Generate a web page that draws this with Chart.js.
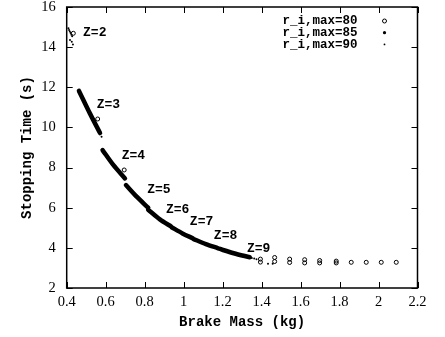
<!DOCTYPE html>
<html>
<head>
<meta charset="utf-8">
<script src="https://cdn.jsdelivr.net/npm/chart.js@4/dist/chart.umd.min.js"></script>
<style>
  html, body { margin: 0; padding: 0; background: #fff; }
</style>
</head>
<body>
<canvas id="brakeChart" width="445" height="337"></canvas>
<script>
// r_i,max=80 (hollow circles)
const mass80 = [0.434, 0.559, 0.695, 1.394, 1.394, 1.467, 1.467, 1.544, 1.544, 1.621, 1.621, 1.698, 1.698, 1.783, 1.783, 1.860, 1.937, 2.014, 2.091];
const time80 = [14.69, 10.42, 7.88, 3.44, 3.29, 3.52, 3.32, 3.44, 3.27, 3.41, 3.25, 3.37, 3.25, 3.34, 3.25, 3.28, 3.28, 3.28, 3.28];

// r_i,max=85 (dense dots, one run per Z, null = break)
const mass85 = [0.463, 0.519, 0.571, null, 0.584, 0.639, 0.699, null, 0.704, 0.759, 0.818, null,
                0.818, 0.878, 0.938, null, 0.938, 0.994, 1.049, null, 1.049, 1.114, 1.177, null, 1.177, 1.257, 1.339];
const time85 = [11.82, 10.70, 9.72, null, 8.87, 8.13, 7.46, null, 7.13, 6.55, 6.00, null,
                5.90, 5.42, 5.05, null, 5.03, 4.72, 4.47, null, 4.45, 4.19, 3.98, null, 3.97, 3.73, 3.53];

// r_i,max=90 (small dots)
const mass90 = [0.409, 0.412, 0.416, 0.420, 0.424, 0.428, 0.417, 0.426, 0.432, 0.579, 1.350, 1.362, 1.374, 1.433, 1.457];
const time90 = [14.94, 14.86, 14.78, 14.70, 14.62, 14.54, 14.36, 14.27, 14.13, 9.54, 3.50, 3.47, 3.43, 3.21, 3.21];

// Z labels
const zLabels = ['Z=2', 'Z=3', 'Z=4', 'Z=5', 'Z=6', 'Z=7', 'Z=8', 'Z=9'];
const zMass = [0.484, 0.554, 0.682, 0.813, 0.909, 1.032, 1.155, 1.325];
const zTime = [14.70, 11.12, 8.58, 6.88, 5.92, 5.29, 4.59, 3.98];

const toPoints = (xs, ys) => xs.map((x, i) => ({ x: x, y: ys[i] }));

const serif = '"Liberation Serif", "Times New Roman", serif';
const mono = '"Liberation Mono", "Courier New", monospace';

// frame, inward ticks, Z labels and the key
const framePlugin = {
  id: 'frame',
  afterDatasetsDraw(chart) {
    const ctx = chart.ctx;
    const a = chart.chartArea;
    const xs = chart.scales.x, ys = chart.scales.y;
    ctx.save();
    ctx.strokeStyle = '#000';
    ctx.lineWidth = 1.5;
    ctx.strokeRect(a.left, a.top, a.right - a.left, a.bottom - a.top);
    ctx.lineWidth = 1;
    ctx.beginPath();
    xs.ticks.forEach(t => {
      const px = Math.round(xs.getPixelForValue(t.value)) + 0.5;
      ctx.moveTo(px, a.bottom); ctx.lineTo(px, a.bottom - 6);
      ctx.moveTo(px, a.top); ctx.lineTo(px, a.top + 6);
    });
    ys.ticks.forEach(t => {
      const py = Math.round(ys.getPixelForValue(t.value)) + 0.5;
      ctx.moveTo(a.left, py); ctx.lineTo(a.left + 6, py);
      ctx.moveTo(a.right, py); ctx.lineTo(a.right - 6, py);
    });
    ctx.stroke();

    ctx.fillStyle = '#000';
    ctx.font = 'bold 13px ' + mono;
    ctx.textAlign = 'left';
    ctx.textBaseline = 'middle';
    zLabels.forEach((lab, i) => {
      ctx.fillText(lab, xs.getPixelForValue(zMass[i]), ys.getPixelForValue(zTime[i]));
    });

    // key
    ctx.font = 'bold 12.5px ' + mono;
    ctx.textAlign = 'right';
    chart.data.datasets.forEach((ds, i) => {
      const y = a.top + 14 + i * 11.7;
      ctx.fillText(ds.label, a.right - 60, y);
      const mx = a.right - 33;
      ctx.beginPath();
      if (i === 0) {
        ctx.arc(mx, y, 2, 0, Math.PI * 2);
        ctx.lineWidth = 1;
        ctx.stroke();
      } else {
        ctx.arc(mx, y, i === 1 ? 1.6 : 0.9, 0, Math.PI * 2);
        ctx.fill();
      }
    });
    ctx.restore();
  }
};

const ctx = document.getElementById('brakeChart').getContext('2d');
const brakeChart = new Chart(ctx, {
  type: 'scatter',
  data: {
    datasets: [{
      label: 'r_i,max=80',
      data: toPoints(mass80, time80),
      pointStyle: 'circle',
      pointRadius: 2,
      pointBorderWidth: 1,
      pointBorderColor: '#000',
      pointBackgroundColor: 'rgba(0,0,0,0)',
      showLine: false
    }, {
      label: 'r_i,max=85',
      data: toPoints(mass85, time85),
      showLine: true,
      spanGaps: false,
      borderColor: '#000',
      borderWidth: 4.5,
      borderCapStyle: 'round',
      borderJoinStyle: 'round',
      tension: 0.3,
      pointRadius: 0
    }, {
      label: 'r_i,max=90',
      data: toPoints(mass90, time90),
      pointRadius: 1,
      pointBorderWidth: 0,
      pointBackgroundColor: '#000',
      showLine: false
    }]
  },
  options: {
    responsive: false,
    animation: false,
    layout: { padding: { top: 7, right: 27.5, left: 0, bottom: 0 } },
    plugins: {
      legend: { display: false },
      tooltip: { enabled: false }
    },
    scales: {
      x: {
        type: 'linear',
        min: 0.4,
        max: 2.2,
        afterFit: s => { s.height = 49; s.paddingLeft = 0; s.paddingRight = 0; },
        grid: { display: false, drawTicks: false },
        border: { display: false },
        ticks: {
          stepSize: 0.2,
          padding: 5,
          color: '#000',
          font: { family: serif, size: 14.5 },
          maxRotation: 0,
          autoSkip: false,
          callback: v => String(Math.round(v * 10) / 10)
        },
        title: {
          display: true,
          text: 'Brake Mass (kg)',
          color: '#000',
          font: { family: mono, size: 14, weight: 'bold' },
          padding: { top: 0, bottom: 6.6 }
        }
      },
      y: {
        min: 2,
        max: 16,
        afterFit: s => { s.width = 66.7; s.paddingTop = 0; s.paddingBottom = 0; },
        grid: { display: false, drawTicks: false },
        border: { display: false },
        ticks: {
          stepSize: 2,
          padding: 11,
          color: '#000',
          font: { family: serif, size: 14.5 }
        },
        title: {
          display: true,
          text: 'Stopping Time (s)',
          color: '#000',
          font: { family: mono, size: 14, weight: 'bold' },
          padding: { top: 18.6, bottom: 0 }
        }
      }
    }
  },
  plugins: [framePlugin]
});
</script>
</body>
</html>
